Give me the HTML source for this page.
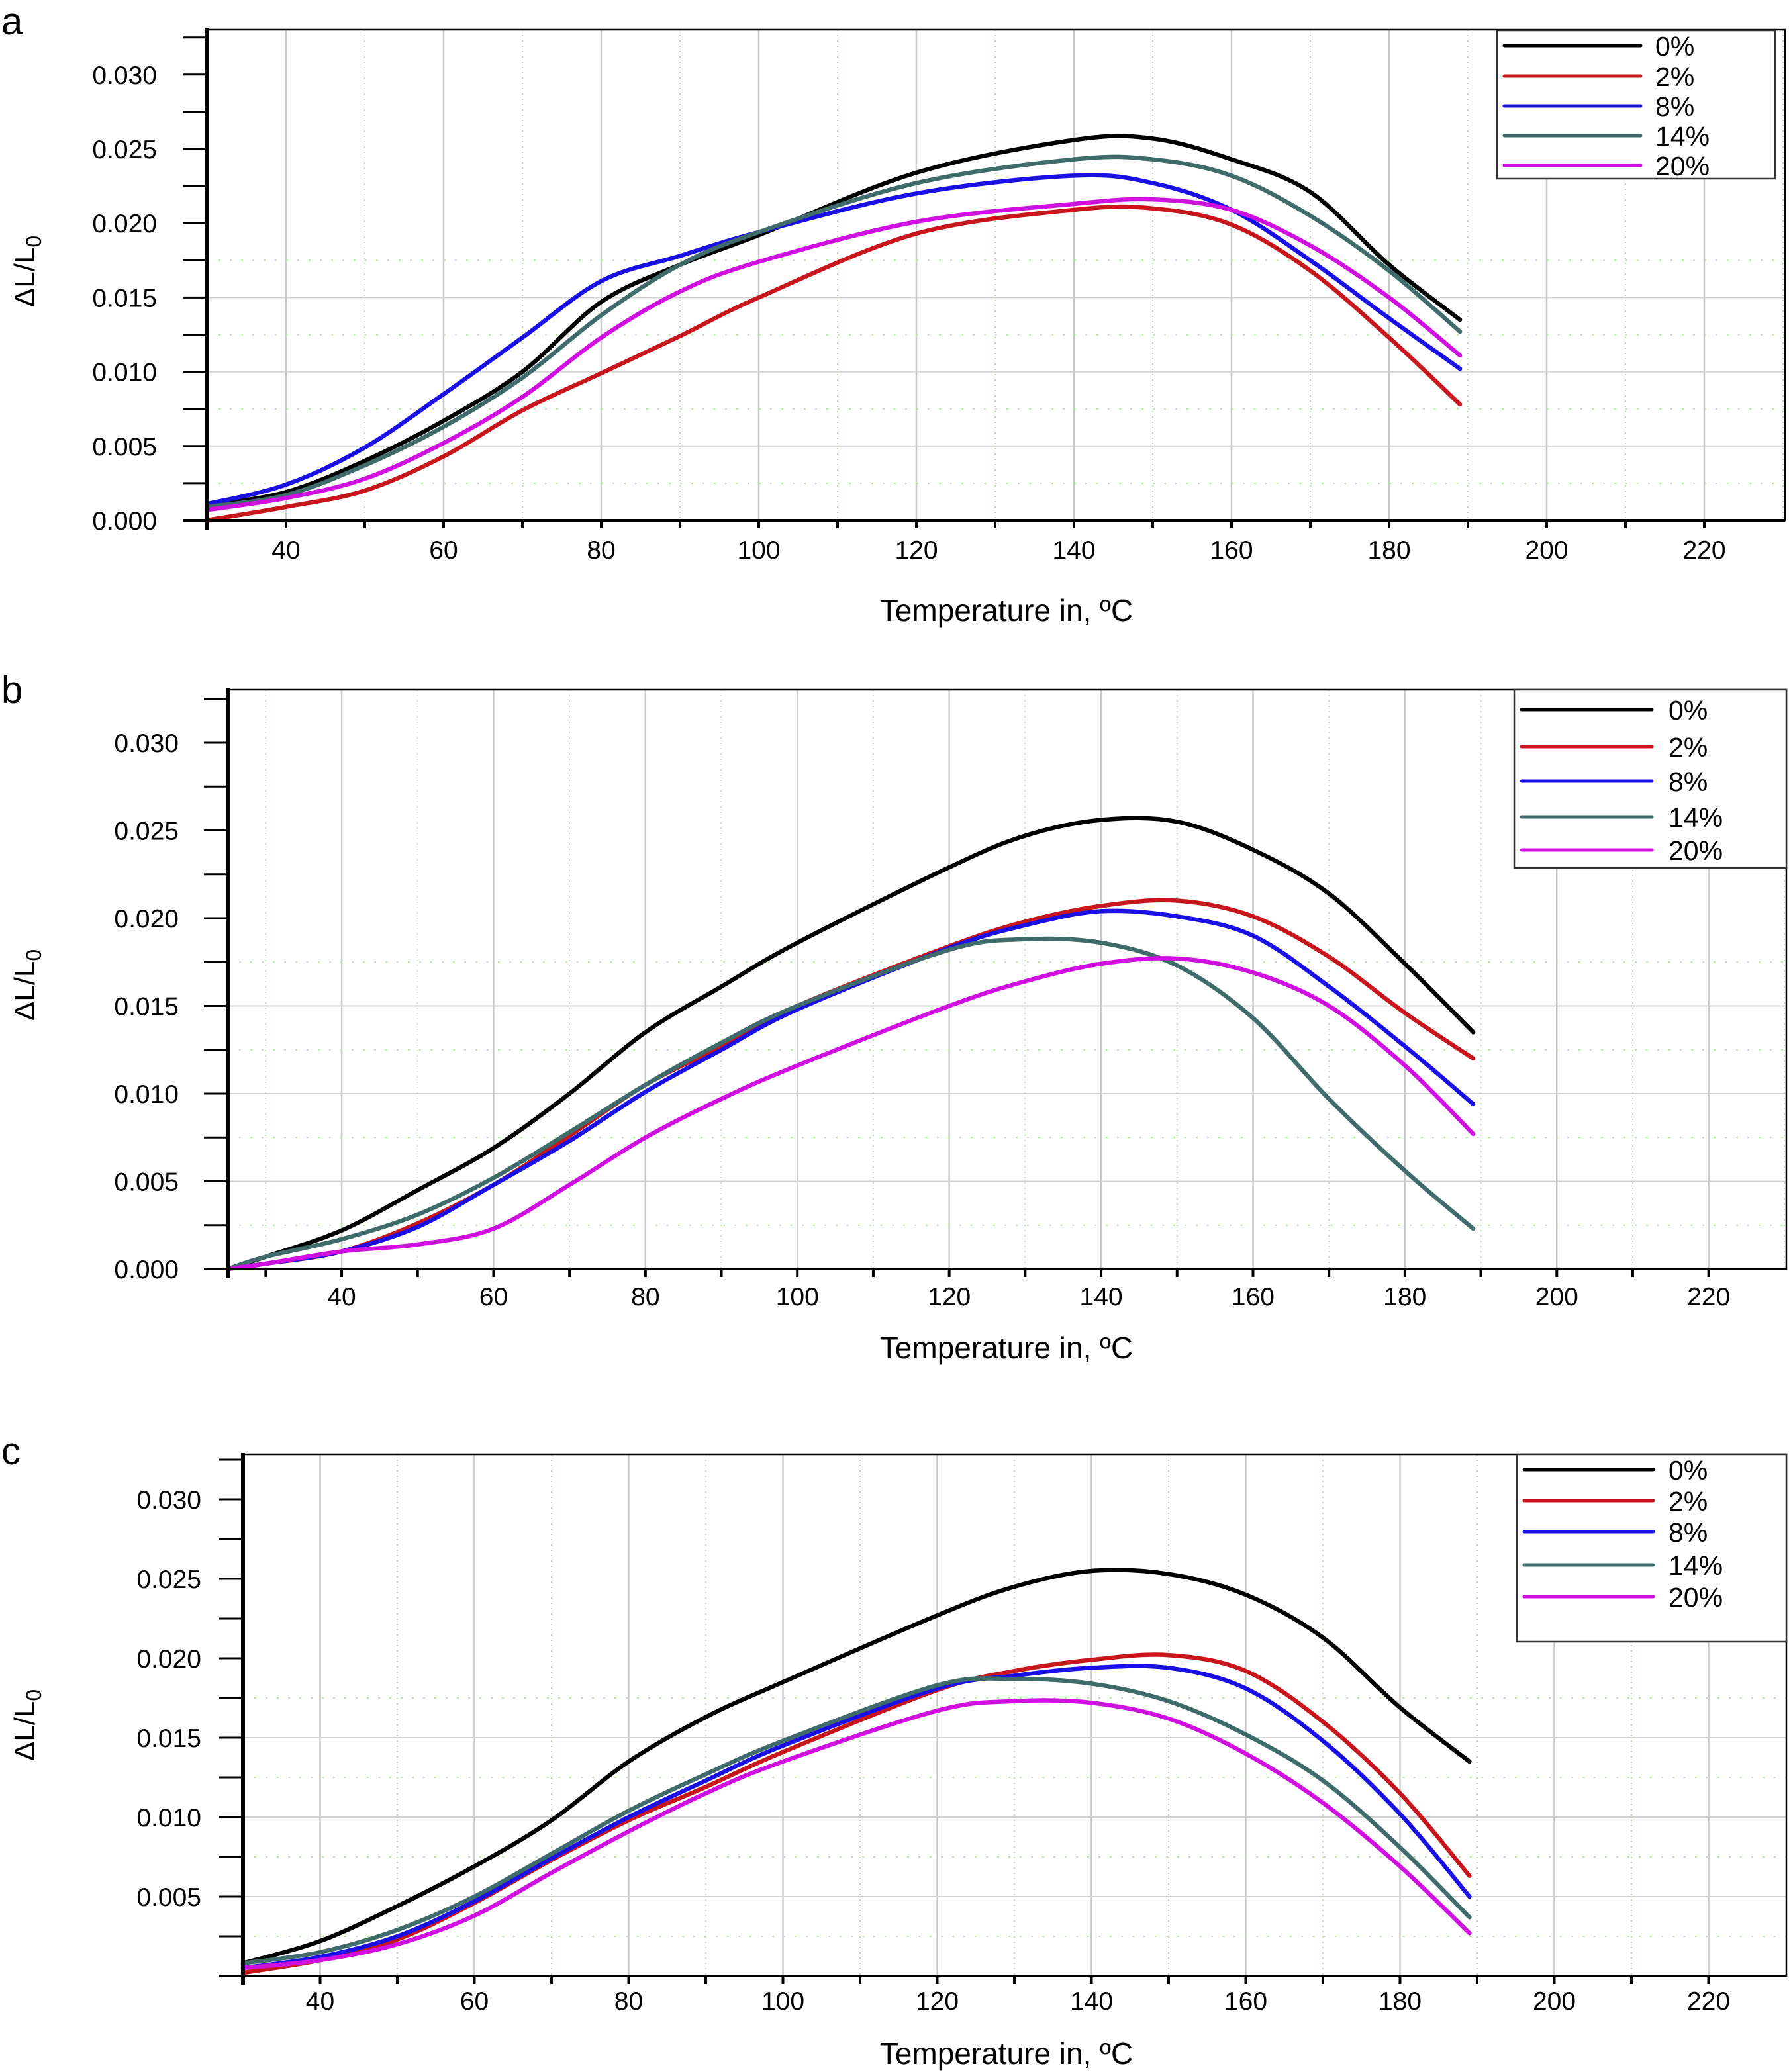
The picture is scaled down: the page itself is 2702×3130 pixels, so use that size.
<!DOCTYPE html>
<html><head><meta charset="utf-8"><style>
html,body{margin:0;padding:0;background:#fff}
svg{display:block}
text{font-family:"Liberation Sans",sans-serif;fill:#000}
</style></head><body>
<svg id="fig" width="2702" height="3130" viewBox="0 0 2702 3130" xmlns="http://www.w3.org/2000/svg"></svg>
<script>
const seriesNames = ["0%","2%","8%","14%","20%"];
const seriesColors = ["#000000","#c8161d","#1a10e6","#3f6b6b","#d010e0"];
const xTickLabels = [40,60,80,100,120,140,160,180,200,220];

// Panel a
const aTemps = [30,40,50,60,70,80,90,100,120,140,150,160,170,180,189];
const aBlack = [0.0010,0.0019,0.0040,0.0067,0.0100,0.0147,0.0172,0.0192,0.0234,0.0256,0.0257,0.0243,0.0221,0.0172,0.0135];
const aRed = [0.0000,0.0009,0.0020,0.0043,0.0074,0.0099,0.0124,0.0150,0.0193,0.0209,0.0210,0.0199,0.0168,0.0123,0.0078];
const aBlue = [0.0011,0.0024,0.0049,0.0085,0.0123,0.0161,0.0178,0.0194,0.0220,0.0232,0.0227,0.0209,0.0175,0.0136,0.0102];
const aTeal = [0.0009,0.0017,0.0037,0.0063,0.0096,0.0138,0.0172,0.0194,0.0227,0.0243,0.0243,0.0232,0.0205,0.0168,0.0127];
const aMag = [0.0007,0.0015,0.0028,0.0052,0.0083,0.0123,0.0154,0.0174,0.0201,0.0213,0.0216,0.0209,0.0185,0.0150,0.0111];
const aYTicks = ["0.000","0.005","0.010","0.015","0.020","0.025","0.030"];

// Panel b
const bTemps = [25,30,40,50,60,70,80,90,100,120,130,140,150,160,170,180,189];
const bBlack = [0.0000,0.0007,0.0022,0.0045,0.0069,0.0100,0.0135,0.0161,0.0186,0.0229,0.0247,0.0256,0.0255,0.0239,0.0214,0.0174,0.0135];
const bRed = [0.0000,0.0003,0.0010,0.0026,0.0048,0.0076,0.0105,0.0127,0.0150,0.0184,0.0198,0.0207,0.0210,0.0201,0.0178,0.0146,0.0120];
const bBlue = [0.0000,0.0003,0.0010,0.0024,0.0048,0.0073,0.0101,0.0125,0.0148,0.0183,0.0196,0.0204,0.0201,0.0190,0.0161,0.0127,0.0094];
const bTeal = [0.0000,0.0007,0.0017,0.0031,0.0052,0.0078,0.0105,0.0129,0.0150,0.0182,0.0188,0.0186,0.0173,0.0143,0.0097,0.0056,0.0023];
const bMag = [0.0000,0.0003,0.0010,0.0014,0.0023,0.0048,0.0075,0.0097,0.0116,0.0150,0.0164,0.0174,0.0177,0.0169,0.0150,0.0116,0.0077];
const bYTicks = ["0.000","0.005","0.010","0.015","0.020","0.025","0.030"];

// Panel c
const cTemps = [30,40,50,60,70,80,90,100,120,130,140,150,160,170,180,189];
const cBlack = [0.0008,0.0022,0.0044,0.0069,0.0098,0.0135,0.0163,0.0185,0.0227,0.0245,0.0255,0.0253,0.0240,0.0213,0.0169,0.0135];
const cRed = [0.0002,0.0010,0.0023,0.0046,0.0073,0.0098,0.0119,0.0141,0.0180,0.0192,0.0199,0.0202,0.0192,0.0160,0.0115,0.0063];
const cBlue = [0.0005,0.0012,0.0025,0.0047,0.0074,0.0100,0.0123,0.0145,0.0181,0.0189,0.0194,0.0194,0.0181,0.0148,0.0102,0.0050];
const cTeal = [0.0008,0.0015,0.0029,0.0050,0.0077,0.0104,0.0127,0.0148,0.0183,0.0187,0.0184,0.0173,0.0152,0.0123,0.0081,0.0037];
const cMag = [0.0005,0.0010,0.0020,0.0038,0.0065,0.0091,0.0115,0.0135,0.0167,0.0173,0.0172,0.0162,0.0140,0.0109,0.0069,0.0027];
const cYTicks = ["0.005","0.010","0.015","0.020","0.025","0.030"];

const NS = "http://www.w3.org/2000/svg";
const svg = document.getElementById('fig');
function el(tag, attrs, parent){ const e=document.createElementNS(NS,tag); for(const k in attrs) e.setAttribute(k,attrs[k]); (parent||svg).appendChild(e); return e; }

const panels = [
 {id:'a', letterY:52, L:313, R:2696, T:45, B:786, xMin:30, xPx:11.9, yPerStep:112.2, labOff:76,
  temps:aTemps, ser:[aBlack,aRed,aBlue,aTeal,aMag], yt:aYTicks, xLabY:844, titleY:938, yTitleY:410,
  leg:{x1:2261,x2:2681,y1:46,y2:270,rows:[69,115,160,205,250],lx1:2272,lx2:2478,tx:2500}},
 {id:'b', letterY:1062, L:344, R:2698, T:1042, B:1917, xMin:25, xPx:11.47, yPerStep:132.5, labOff:74,
  temps:bTemps, ser:[bBlack,bRed,bBlue,bTeal,bMag], yt:bYTicks, xLabY:1972, titleY:2052, yTitleY:1488,
  leg:{x1:2287,x2:2698,y1:1042,y2:1311,rows:[1072,1128,1180,1234,1284],lx1:2298,lx2:2495,tx:2520}},
 {id:'c', letterY:2212, L:367, R:2698, T:2197, B:2985, xMin:30, xPx:11.65, yPerStep:120, labOff:63,
  temps:cTemps, ser:[cBlack,cRed,cBlue,cTeal,cMag], yt:cYTicks, xLabY:3036, titleY:3118, yTitleY:2606,
  leg:{x1:2291,x2:2698,y1:2197,y2:2480,rows:[2220,2267,2314,2364,2412],lx1:2302,lx2:2497,tx:2520}}
];

function smoothPath(pts){
  let d = `M${pts[0][0].toFixed(1)},${pts[0][1].toFixed(1)}`;
  for(let i=0;i<pts.length-1;i++){
    const p0=pts[Math.max(0,i-1)], p1=pts[i], p2=pts[i+1], p3=pts[Math.min(pts.length-1,i+2)];
    const c1=[p1[0]+(p2[0]-p0[0])/6, p1[1]+(p2[1]-p0[1])/6];
    const c2=[p2[0]-(p3[0]-p1[0])/6, p2[1]-(p3[1]-p1[1])/6];
    d+=` C${c1[0].toFixed(1)},${c1[1].toFixed(1)} ${c2[0].toFixed(1)},${c2[1].toFixed(1)} ${p2[0].toFixed(1)},${p2[1].toFixed(1)}`;
  }
  return d;
}

panels.forEach(p=>{
  const xS = v => p.L + (v - p.xMin)*p.xPx;
  const yS = v => p.B - v/0.005*p.yPerStep;
  const g = el('g',{});
  
  

  const letter = el('text',{x:2,y:p.letterY,'font-size':58},g);
  letter.textContent = p.id;
  
  

  // vertical grid
  for(let v=30; v<=230; v+=10){
    const x = xS(v); if(x<=p.L+2 || x>=p.R-2) continue;
    const major = (v%20===0);
    const ln = el('line',{x1:x,x2:x,y1:p.T,y2:p.B,stroke:major?'#c8c8c8':'#b8e6a8','stroke-width':major?2.5:2,'stroke-dasharray':major?'':'2,6'},g);
    
    
  }
  // horizontal grid
  for(let k=1;k<=7;k++){
    const yv = k*0.0025; const y = yS(yv); if(y<=p.T+2) continue;
    const major = (k%2===0);
    const ln = el('line',{x1:p.L,x2:p.R,y1:y,y2:y,stroke:major?'#d0d0d0':'#b8e6a8','stroke-width':2,'stroke-dasharray':major?'':'3,14'},g);
    
    
  }
  // series
  p.ser.forEach((vals,si)=>{
    const pts = p.temps.map((t,i)=>[xS(t), yS(vals[i])]);
    const path = el('path',{d:smoothPath(pts),fill:'none',stroke:seriesColors[si],'stroke-width':6.5,'stroke-linecap':'round','stroke-linejoin':'round'},g);
    
    
  });
  // frame
  const fr = el('rect',{x:p.L,y:p.T,width:p.R-p.L,height:p.B-p.T,fill:'none',stroke:'#000','stroke-width':2.5},g);
  
  
  const ya = el('line',{x1:p.L,x2:p.L,y1:p.T-2,y2:p.B+14,stroke:'#000','stroke-width':6},g);
  
  
  const xa = el('line',{x1:p.L-36,x2:p.R,y1:p.B,y2:p.B,stroke:'#000','stroke-width':4},g);
  
  
  // y ticks
  for(let k=0;k<=6.5;k+=0.5){
    const y = yS(k*0.005);
    const tk = el('line',{x1:p.L-36,x2:p.L,y1:y,y2:y,stroke:'#000','stroke-width':3},g);
    
    
  }
  p.yt.forEach(lbl=>{
    const t = el('text',{x:p.L-p.labOff,y:yS(parseFloat(lbl))+14,'font-size':39,'text-anchor':'end'},g);
    t.textContent = lbl;
    
    
  });
  // x ticks
  for(let v=30; v<=220; v+=10){
    const x = xS(v); if(x<p.L) continue;
    const tk = el('line',{x1:x,x2:x,y1:p.B,y2:p.B+12,stroke:'#000','stroke-width':4},g);
    
    
  }
  xTickLabels.forEach(v=>{
    const t = el('text',{x:xS(v),y:p.xLabY,'font-size':39,'text-anchor':'middle'},g);
    t.textContent = v;
    
    
  });
  const xt = el('text',{x:1520,y:p.titleY,'font-size':46,'text-anchor':'middle'},g);
  xt.textContent = 'Temperature in, \u00BAC';
  
  
  const yt = el('text',{x:0,y:0,'font-size':44,'text-anchor':'middle',transform:`translate(52,${p.yTitleY}) rotate(-90)`},g);
  yt.innerHTML = '\u0394L/L<tspan dy="10" font-size="32">0</tspan>';
  
  
  // legend
  const lg = el('g',{},g);
  
  
  const L = p.leg;
  el('rect',{x:L.x1,y:L.y1,width:L.x2-L.x1,height:L.y2-L.y1,fill:'#fff',stroke:'#333','stroke-width':2.5},lg);
  seriesNames.forEach((n,si)=>{
    const ln = el('line',{x1:L.lx1,x2:L.lx2,y1:L.rows[si],y2:L.rows[si],stroke:seriesColors[si],'stroke-width':5,'stroke-linecap':'round'},lg);
    
    
    const t = el('text',{x:L.tx,y:L.rows[si]+15,'font-size':41},lg);
    t.textContent = n;
    
    
  });
});
</script>
</body></html>
